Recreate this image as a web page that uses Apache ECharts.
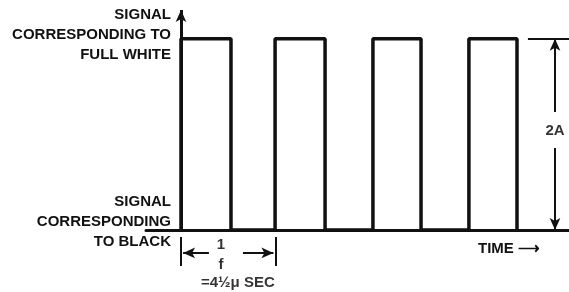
<!DOCTYPE html>
<html>
<head>
<meta charset="utf-8">
<title>Square wave</title>
<script src="https://cdn.jsdelivr.net/npm/echarts@6/dist/echarts.min.js"></script>
<style>
  html, body { margin: 0; padding: 0; background: #fff; }
  #chart { width: 569px; height: 292px; }
</style>
</head>
<body>
<div id="chart"></div>
<script>
// time in microseconds, level in units of A
const riseTimes = [0, 4.48, 9.14, 13.71]
const fallTimes = [2.38, 6.86, 11.43, 16.0]
const whiteLevel = 2
const blackLevel = 0
const blackLabel = 'SIGNAL\nCORRESPONDING\nTO BLACK'
const whiteLabel = 'SIGNAL\nCORRESPONDING TO\nFULL WHITE'
const labelLevels = [0.084, 2.039] // where the two level captions sit
const period = 4.5
const periodText = ['1', 'f', '=4½μ SEC']
const ampText = '2A'
const timeName = 'TIME ⟶'

const ink = '#111'
const font = 'Liberation Sans'

// build the square wave from the edge times
const wave = []
riseTimes.forEach((t, i) => {
  wave.push([t, blackLevel], [t, whiteLevel], [fallTimes[i], whiteLevel], [fallTimes[i], blackLevel])
})

const dimX = 17.81
const xMin = -1.6667
const xMax = 18.4762
const yMax = 2.3

const chart = echarts.init(document.getElementById('chart'))

chart.setOption({
  animation: false,
  grid: { left: 146, right: 0, top: 10, bottom: 0, containLabel: false, outerBoundsMode: 'none' },
  xAxis: {
    type: 'value',
    min: xMin,
    max: xMax,
    name: timeName,
    nameLocation: 'end',
    nameGap: -29,
    nameTextStyle: {
      color: ink, fontFamily: font, fontWeight: 'bold', fontSize: 15,
      align: 'right', verticalAlign: 'top', padding: [11, 0, 0, 0]
    },
    axisLine: { onZero: true, lineStyle: { color: ink, width: 3 } },
    axisTick: { show: false },
    axisLabel: { show: false },
    splitLine: { show: false }
  },
  yAxis: {
    type: 'value',
    min: -0.6482,
    max: yMax,
    offset: -35, // captions hang off the signal axis at t = 0
    axisLine: { show: false, onZero: false },
    axisTick: { show: false },
    splitLine: { show: false },
    axisLabel: {
      customValues: labelLevels,
      margin: 10,
      color: ink,
      fontFamily: font,
      fontWeight: 'bold',
      fontSize: 15,
      lineHeight: 20,
      align: 'right',
      formatter: v => (v < 1 ? blackLabel : whiteLabel)
    }
  },
  series: [
    {
      type: 'line',
      data: wave,
      symbol: 'none',
      clip: false,
      z: 3,
      lineStyle: { color: ink, width: 3.5 },
      markLine: {
        silent: true,
        animation: false,
        label: { show: false },
        lineStyle: { color: ink, width: 2, type: 'solid' },
        symbolSize: [8, 12],
        data: [
          // signal axis
          [{ coord: [0, blackLevel], symbol: 'none', lineStyle: { width: 3 } }, { coord: [0, yMax], symbol: 'arrow' }],
          // 2A extension and arrows
          [{ coord: [16.52, whiteLevel], symbol: 'none' }, { coord: [xMax, whiteLevel], symbol: 'none' }],
          [{ coord: [dimX, 1.234], symbol: 'none' }, { coord: [dimX, whiteLevel], symbol: 'arrow' }],
          [{ coord: [dimX, 0.857], symbol: 'none' }, { coord: [dimX, blackLevel], symbol: 'arrow' }],
          // period ticks and arrows
          [{ coord: [0, -0.073], symbol: 'none' }, { coord: [0, -0.376], symbol: 'none' }],
          [{ coord: [period, -0.073], symbol: 'none' }, { coord: [period, -0.376], symbol: 'none' }],
          [{ coord: [1.33, -0.24], symbol: 'none' }, { coord: [0.1, -0.24], symbol: 'arrow' }],
          [{ coord: [2.95, -0.24], symbol: 'none' }, { coord: [period - 0.1, -0.24], symbol: 'arrow' }]
        ]
      }
    },
    {
      type: 'scatter',
      symbolSize: 0,
      clip: false,
      silent: true,
      label: {
        show: true,
        position: 'inside',
        color: '#000',
        fontFamily: font,
        fontWeight: 'bold',
        fontSize: 15,
        formatter: p => p.name
      },
      data: [
        { name: ampText, value: [dimX, 1.035] },
        { name: periodText[0], value: [1.9, -0.16] },
        { name: periodText[1], value: [1.9, -0.36] },
        { name: periodText[2], value: [2.71, -0.55] }
      ]
    }
  ]
})
</script>
</body>
</html>
